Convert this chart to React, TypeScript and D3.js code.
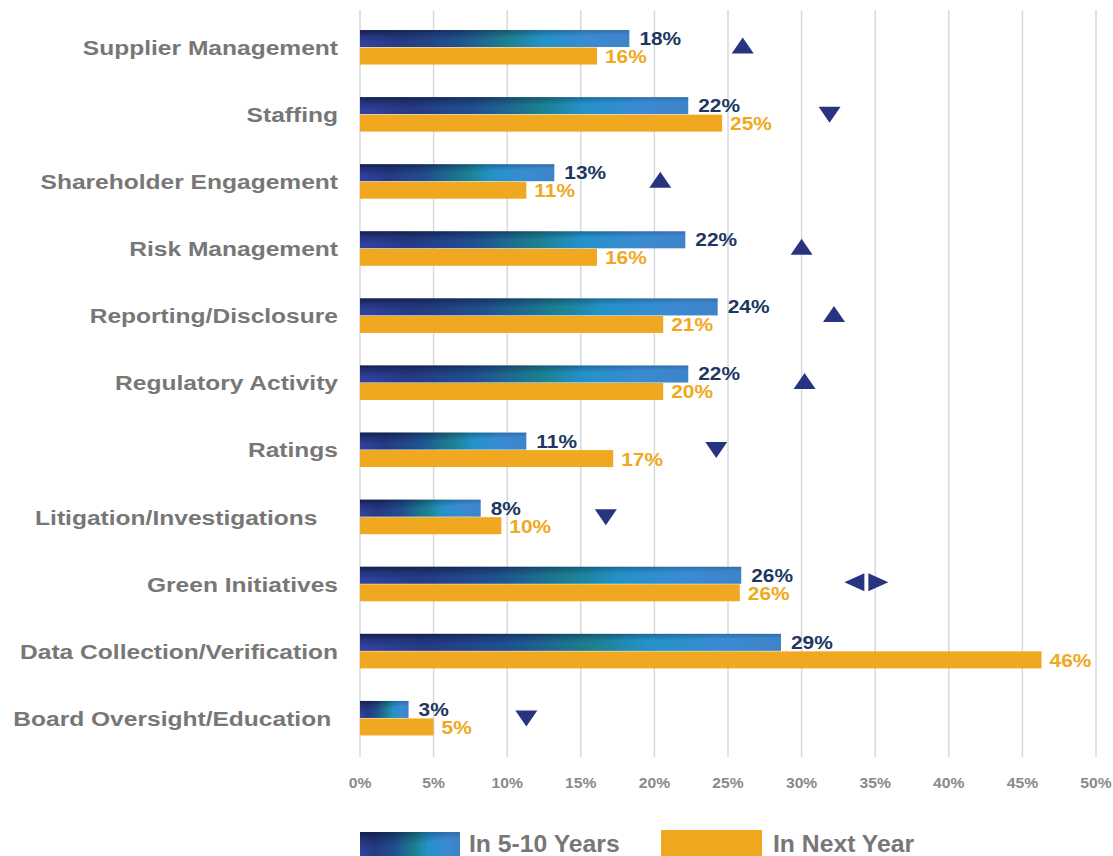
import { useEffect, useRef } from "react";
import * as d3 from "d3";

const categories = [
  "Supplier Management",
  "Staffing",
  "Shareholder Engagement",
  "Risk Management",
  "Reporting/Disclosure",
  "Regulatory Activity",
  "Ratings",
  "Litigation/Investigations   ",
  "Green Initiatives",
  "Data Collection/Verification",
  "Board Oversight/Education ",
];

// bar lengths as drawn (labels are the rounded values)
const fiveToTen = [18.3, 22.3, 13.2, 22.1, 24.3, 22.3, 11.3, 8.2, 25.9, 28.6, 3.3];
const nextYear = [16.1, 24.6, 11.3, 16.1, 20.6, 20.6, 17.2, 9.6, 25.8, 46.3, 5.0];
const fiveToTenLabels = ["18%", "22%", "13%", "22%", "24%", "22%", "11%", "8%", "26%", "29%", "3%"];
const nextYearLabels = ["16%", "25%", "11%", "16%", "21%", "20%", "17%", "10%", "26%", "46%", "5%"];
// trend marker: direction and where it sits on the % axis
const trends = ["up", "down", "up", "up", "up", "up", "down", "down", "flat", "none", "down"];
const trendAt = [26.0, 31.9, 20.4, 30.0, 32.2, 30.2, 24.2, 16.7, 34.4, 0, 11.3];

const xTicks = [0, 5, 10, 15, 20, 25, 30, 35, 40, 45, 50];
const seriesNames = ["In 5-10 Years", "In Next Year"];

const width = 1113;
const height = 856;
const navy = "#1c3861";
const orange = "#f0a820";
const gray = "#777777";
const arrowColor = "#28347f";
const font = "'Liberation Sans', Arial, sans-serif";

const App = () => {
  const ref = useRef<HTMLDivElement>(null);

  useEffect(() => {
    document.body.style.margin = "0";

    const x = d3.scaleLinear([0, 50], [360, 1096]);
    const y = d3.scaleBand<string>(categories, [14, 752]);

    const svg = d3
      .create("svg")
      .attr("width", width)
      .attr("height", height)
      .attr("viewBox", [0, 0, width, height])
      .style("font-family", font)
      .style("display", "block");

    svg.append("rect").attr("width", width).attr("height", height).attr("fill", "#fff");

    // gradients for the textured blue bars
    const defs = svg.append("defs");
    const g1 = defs.append("linearGradient").attr("id", "blueGrad");
    [
      [0, "#3242a0"],
      [0.15, "#263a84"],
      [0.35, "#20508f"],
      [0.55, "#1c8090"],
      [0.68, "#2392c8"],
      [0.85, "#3a8bd2"],
      [1, "#3e83c8"],
    ].forEach(([o, c]) => g1.append("stop").attr("offset", o as number).attr("stop-color", c as string));
    const g2 = defs
      .append("linearGradient")
      .attr("id", "shade")
      .attr("x1", 0)
      .attr("y1", 0)
      .attr("x2", 0.5)
      .attr("y2", 1);
    g2.append("stop").attr("offset", 0).attr("stop-color", "#070f25").attr("stop-opacity", 0.7);
    g2.append("stop").attr("offset", 0.3).attr("stop-color", "#0b1a3a").attr("stop-opacity", 0.3);
    g2.append("stop").attr("offset", 0.6).attr("stop-color", "#0b1a3a").attr("stop-opacity", 0);

    // grid lines
    svg.append("g")
      .selectAll("line")
      .data(xTicks)
      .join("line")
      .attr("x1", (d) => x(d))
      .attr("x2", (d) => x(d))
      .attr("y1", 10)
      .attr("y2", 757)
      .attr("stroke", "#d9d9d9")
      .attr("stroke-width", 1.5);

    // x tick labels
    svg.append("g")
      .selectAll("text")
      .data(xTicks)
      .join("text")
      .attr("transform", (d) => `translate(${x(d)},788) scale(1.12,1)`)
      .attr("text-anchor", "middle")
      .attr("fill", "#8a8a8a")
      .attr("font-size", 14)
      .attr("font-weight", "bold")
      .text((d) => `${d}%`);

    const barH = 17;
    const rows = svg
      .append("g")
      .selectAll("g")
      .data(categories)
      .join("g")
      .attr("transform", (d) => `translate(0,${y(d)! + y.bandwidth() / 2})`);

    // category labels
    rows.append("text")
      .attr("transform", "translate(338,0) scale(1.17,1)")
      .attr("dy", "0.35em")
      .attr("text-anchor", "end")
      .attr("fill", gray)
      .attr("font-size", 21)
      .attr("font-weight", "bold")
      .style("white-space", "pre")
      .text((d) => d);

    // blue bars
    rows.append("rect")
      .attr("x", x(0))
      .attr("y", -17.5)
      .attr("width", (_, i) => x(fiveToTen[i]) - x(0))
      .attr("height", barH)
      .attr("fill", "url(#blueGrad)");
    rows.append("rect")
      .attr("x", x(0))
      .attr("y", -17.5)
      .attr("width", (_, i) => x(fiveToTen[i]) - x(0))
      .attr("height", barH)
      .attr("fill", "url(#shade)");

    // orange bars
    rows.append("rect")
      .attr("x", x(0))
      .attr("y", 0)
      .attr("width", (_, i) => x(nextYear[i]) - x(0))
      .attr("height", barH)
      .attr("fill", orange);

    // value labels
    rows.append("text")
      .attr("transform", (_, i) => `translate(${x(fiveToTen[i]) + 10},-9) scale(1.13,1)`)
      .attr("dy", "0.35em")
      .attr("fill", navy)
      .attr("font-size", 18.5)
      .attr("font-weight", "bold")
      .text((_, i) => fiveToTenLabels[i]);
    rows.append("text")
      .attr("transform", (_, i) => `translate(${x(nextYear[i]) + 8},9) scale(1.13,1)`)
      .attr("dy", "0.35em")
      .attr("fill", orange)
      .attr("font-size", 18.5)
      .attr("font-weight", "bold")
      .text((_, i) => nextYearLabels[i]);

    // trend arrows
    rows.each(function (_, i) {
      const t = trends[i];
      if (t === "none") return;
      const g = d3.select(this);
      const cx = x(trendAt[i]);
      const w = 11;
      const h = 8;
      if (t === "up") {
        g.append("path").attr("d", `M${cx - w},${h - 2} L${cx + w},${h - 2} L${cx},${-h - 2} Z`).attr("fill", arrowColor);
      } else if (t === "down") {
        g.append("path").attr("d", `M${cx - w},${-h} L${cx + w},${-h} L${cx},${h} Z`).attr("fill", arrowColor);
      } else {
        g.append("path").attr("d", `M${cx - 2},${-h - 3} L${cx - 2},${h - 1} L${cx - 22},-2 Z`).attr("fill", arrowColor);
        g.append("path").attr("d", `M${cx + 2},${-h - 3} L${cx + 2},${h - 1} L${cx + 22},-2 Z`).attr("fill", arrowColor);
      }
    });

    // legend
    const legend = svg.append("g");
    legend.append("rect").attr("x", 360).attr("y", 832).attr("width", 100).attr("height", 26).attr("fill", "url(#blueGrad)");
    legend.append("rect").attr("x", 360).attr("y", 832).attr("width", 100).attr("height", 26).attr("fill", "url(#shade)");
    legend.append("text")
      .attr("transform", "translate(469,852) scale(1.03,1)")
      .attr("fill", gray)
      .attr("font-size", 24)
      .attr("font-weight", "bold")
      .text(seriesNames[0]);
    legend.append("rect").attr("x", 661).attr("y", 830).attr("width", 101).attr("height", 28).attr("fill", orange);
    legend.append("text")
      .attr("transform", "translate(773,852) scale(1.03,1)")
      .attr("fill", gray)
      .attr("font-size", 24)
      .attr("font-weight", "bold")
      .text(seriesNames[1]);

    ref.current!.innerHTML = "";
    ref.current!.appendChild(svg.node()!);
  }, []);

  return <div ref={ref}></div>;
};

export default App;
